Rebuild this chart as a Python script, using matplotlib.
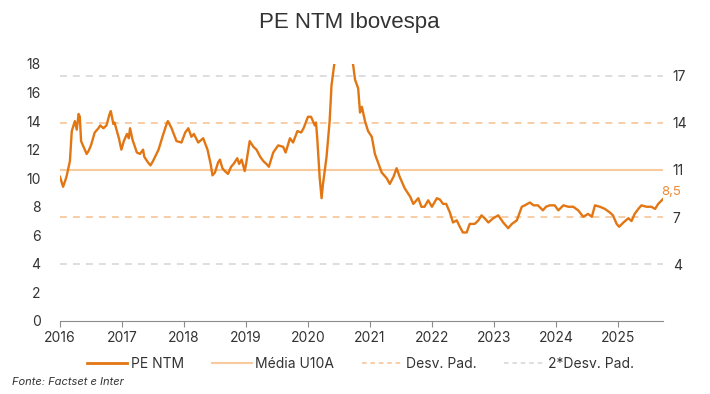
"""PE NTM Ibovespa: forward P/E with 10y mean and std bands."""

import matplotlib.pyplot as plt
from matplotlib.lines import Line2D

# decimal years, values
years = [
    2016.00, 2016.05, 2016.09, 2016.11, 2016.16, 2016.19, 2016.24, 2016.27, 2016.30, 2016.32,
    2016.34, 2016.40, 2016.43, 2016.46, 2016.50, 2016.56, 2016.62, 2016.65, 2016.70, 2016.75,
    2016.80, 2016.82, 2016.86, 2016.88, 2016.95, 2016.99, 2017.03, 2017.08, 2017.11, 2017.13,
    2017.17, 2017.24, 2017.29, 2017.34, 2017.36, 2017.42, 2017.46, 2017.50, 2017.59, 2017.66,
    2017.72, 2017.74, 2017.80, 2017.88, 2017.96, 2018.02, 2018.07, 2018.12, 2018.16, 2018.23,
    2018.31, 2018.38, 2018.43, 2018.46, 2018.50, 2018.55, 2018.58, 2018.62, 2018.66, 2018.71,
    2018.76, 2018.80, 2018.86, 2018.89, 2018.93, 2018.98, 2019.01, 2019.06, 2019.12, 2019.17,
    2019.23, 2019.28, 2019.33, 2019.37, 2019.44, 2019.52, 2019.60, 2019.64, 2019.71, 2019.76,
    2019.83, 2019.89, 2019.93, 2020.00, 2020.05, 2020.11, 2020.13, 2020.15, 2020.19, 2020.22,
    2020.24, 2020.27, 2020.30, 2020.32, 2020.35, 2020.38, 2020.41, 2020.44, 2020.50, 2020.60,
    2020.68, 2020.73, 2020.76, 2020.81, 2020.84, 2020.87, 2020.92, 2020.97, 2021.03, 2021.08,
    2021.13, 2021.19, 2021.27, 2021.32, 2021.38, 2021.43, 2021.48, 2021.56, 2021.65, 2021.70,
    2021.78, 2021.83, 2021.88, 2021.94, 2022.00, 2022.08, 2022.13, 2022.18, 2022.23, 2022.29,
    2022.34, 2022.40, 2022.45, 2022.50, 2022.56, 2022.61, 2022.69, 2022.75, 2022.80, 2022.85,
    2022.91, 2022.99, 2023.07, 2023.15, 2023.23, 2023.29, 2023.37, 2023.45, 2023.50, 2023.58,
    2023.64, 2023.71, 2023.79, 2023.84, 2023.90, 2023.98, 2024.04, 2024.12, 2024.20, 2024.28,
    2024.36, 2024.44, 2024.52, 2024.58, 2024.63, 2024.71, 2024.79, 2024.87, 2024.92, 2024.98,
    2025.02, 2025.09, 2025.17, 2025.22, 2025.27, 2025.33, 2025.38, 2025.46, 2025.54, 2025.60,
    2025.65, 2025.73,
]
pe_ntm = [
    10.1, 9.4, 9.9, 10.2, 11.2, 13.3, 14.0, 13.4, 14.5, 14.3,
    12.6, 12.0, 11.7, 11.9, 12.3, 13.2, 13.5, 13.7, 13.5, 13.7,
    14.5, 14.7, 13.8, 13.9, 12.8, 12.0, 12.6, 13.1, 12.8, 13.5,
    12.7, 11.8, 11.7, 12.0, 11.5, 11.1, 10.9, 11.2, 12.0, 13.0,
    13.8, 14.0, 13.5, 12.6, 12.5, 13.2, 13.5, 12.9, 13.1, 12.5,
    12.8, 12.0, 11.0, 10.2, 10.4, 11.1, 11.3, 10.7, 10.5, 10.3,
    10.8, 11.0, 11.4, 11.0, 11.3, 10.5, 11.2, 12.6, 12.2, 12.0,
    11.5, 11.2, 11.0, 10.8, 11.8, 12.3, 12.2, 11.8, 12.8, 12.5,
    13.3, 13.2, 13.5, 14.3, 14.3, 13.7, 13.9, 12.8, 10.0, 8.6,
    9.5, 10.5, 11.5, 12.5, 14.0, 16.5, 17.5, 18.5, 19.5, 20.0,
    19.0, 17.9, 16.9, 16.3, 14.6, 15.0, 14.0, 13.3, 12.9, 11.7,
    11.1, 10.4, 10.0, 9.6, 10.1, 10.7, 10.1, 9.3, 8.7, 8.2,
    8.6, 8.0, 8.0, 8.45, 8.0, 8.6, 8.5, 8.2, 8.2, 7.6,
    6.9, 7.05, 6.6, 6.2, 6.2, 6.8, 6.8, 7.05, 7.4, 7.2,
    6.9, 7.2, 7.4, 6.9, 6.5, 6.8, 7.05, 8.0, 8.1, 8.3,
    8.1, 8.1, 7.75, 8.0, 8.1, 8.1, 7.75, 8.1, 8.0, 8.0,
    7.75, 7.3, 7.5, 7.3, 8.1, 8.0, 7.85, 7.6, 7.4, 6.8,
    6.6, 6.9, 7.2, 7.0, 7.5, 7.85, 8.1, 8.0, 8.0, 7.85,
    8.2, 8.55,
]

mean_10y = 10.58
std_10y = 3.3
last_label = "8,5"
year_ticks = list(range(2016, 2026))
left_ticks = list(range(0, 19, 2))

ORANGE = "#E27613"
MEAN_C = "#F9CB9C"
STD_C = "#F6C08E"
STD2_C = "#D4D4D4"
TEXT_C = "#333333"

plt.rcParams["font.family"] = ["Inter", "DejaVu Sans"]

fig = plt.figure(figsize=(7.1, 3.94), dpi=100)
ax = fig.add_axes([0.0845, 0.1853, 0.8495, 0.6523])

bands = [mean_10y + 2 * std_10y, mean_10y + std_10y, mean_10y - std_10y, mean_10y - 2 * std_10y]
band_colors = [STD2_C, STD_C, STD_C, STD2_C]
for lvl, c in zip(bands, band_colors):
    ax.axhline(lvl, color=c, lw=1.1, ls=(0, (4.5, 4)), zorder=1)
ax.axhline(mean_10y, color=MEAN_C, lw=1.5, zorder=1)

ax.plot(years, pe_ntm, color=ORANGE, lw=1.7, zorder=3, solid_joinstyle="round")
ax.annotate(last_label, (years[-1], pe_ntm[-1]), xytext=(6, 5), textcoords="offset points",
            ha="center", va="center", color="#EA8A35", fontsize=9.5)

ax.set_xlim(2016, years[-1])
ax.set_ylim(0, 18)
ax.set_xticks(year_ticks)
ax.set_xticklabels([str(y) for y in year_ticks])
ax.set_yticks(left_ticks)
for side in ("left", "right", "top"):
    ax.spines[side].set_visible(False)
ax.spines["bottom"].set_color("#8C8C8C")
ax.tick_params(axis="x", colors="#8C8C8C", length=4, labelcolor=TEXT_C, labelsize=10, pad=3)
ax.tick_params(axis="y", length=0, labelcolor=TEXT_C, labelsize=10, pad=14)

ax2 = ax.twinx()
ax2.set_ylim(0, 18)
right_ticks = [mean_10y - 2 * std_10y, mean_10y - std_10y, mean_10y, mean_10y + std_10y, mean_10y + 2 * std_10y]
ax2.set_yticks(right_ticks)
ax2.set_yticklabels([f"{v:.0f}" for v in right_ticks])
ax2.tick_params(axis="y", length=0, labelcolor=TEXT_C, labelsize=10, pad=7)
for side in ("left", "right", "top", "bottom"):
    ax2.spines[side].set_visible(False)

fig.text(0.492, 0.944, "PE NTM Ibovespa", ha="center", va="center", fontsize=16,
         color=TEXT_C, family=["Liberation Sans Narrow", "Liberation Sans"])

handles = [
    Line2D([], [], color=ORANGE, lw=2),
    Line2D([], [], color=MEAN_C, lw=1.5),
    Line2D([], [], color=STD_C, lw=1.1, ls=(0, (3, 2.5))),
    Line2D([], [], color=STD2_C, lw=1.1, ls=(0, (3, 2.5))),
]
labels = ["PE NTM", "Média U10A", "Desv. Pad.", "2*Desv. Pad."]
fig.legend(handles, labels, loc="center", bbox_to_anchor=(0.508, 0.077), ncol=4, frameon=False,
           fontsize=10, handlelength=2.9, handletextpad=0.25, columnspacing=2.0, labelcolor=TEXT_C)

fig.text(0.017, 0.03, "Fonte: Factset e Inter", ha="left", va="center", fontsize=8,
         style="italic", color=TEXT_C)

fig.savefig("out.png", dpi=100)
